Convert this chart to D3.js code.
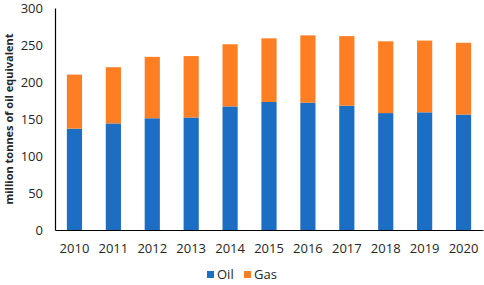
<!DOCTYPE html>
<html>
<head>
<meta charset="utf-8">
<script src="https://cdn.jsdelivr.net/npm/d3@7"></script>
<style>
    body { margin: 0; background: #fff; }
    #chart { width: 484px; height: 285px; }
    text { font-family: 'Open Sans', 'Liberation Sans', sans-serif; fill: #262626; }
</style>
</head>
<body>
<div id="chart"></div>
<script>
// DATA
const years = ['2010', '2011', '2012', '2013', '2014', '2015', '2016', '2017', '2018', '2019', '2020']
const oil = [137, 144, 151, 152, 167, 173, 172, 168, 158, 159, 156]
const gas = [73, 76, 83, 83, 84, 86, 91, 94, 97, 97, 97]
const seriesNames = ['Oil', 'Gas']
const yTicks = [0, 50, 100, 150, 200, 250, 300]

// SETTINGS
const settings = {
    width: 484,
    height: 285,
    margins: { left: 55, right: 1, top: 8, bottom: 55 },
    colors: { Oil: '#1c6ec4', Gas: '#fd7e23' }
}
const innerW = settings.width - settings.margins.left - settings.margins.right
const innerH = settings.height - settings.margins.top - settings.margins.bottom

const table = years.map((y, i) => ({ year: y, Oil: oil[i], Gas: gas[i] }))
const stacked = d3.stack().keys(seriesNames)(table)

const svg = d3.select('#chart').append('svg')
    .attr('width', settings.width)
    .attr('height', settings.height)

const g = svg.append('g')
    .attr('transform', `translate(${settings.margins.left}, ${settings.margins.top})`)

const x = d3.scaleBand()
    .domain(years)
    .range([0, innerW])
    .paddingInner(0.61)
    .paddingOuter(0.305)

const y = d3.scaleLinear()
    .domain([0, 300])
    .range([innerH, 0])

// bars
g.selectAll('.series')
    .data(stacked)
    .enter().append('g')
    .attr('class', 'series')
    .attr('fill', d => settings.colors[d.key])
    .selectAll('rect')
    .data(d => d)
    .enter().append('rect')
    .attr('x', d => x(d.data.year))
    .attr('width', x.bandwidth())
    .attr('y', d => y(d[1]))
    .attr('height', d => y(d[0]) - y(d[1]))

// y axis
const yAxis = d3.axisLeft(y).tickValues(yTicks).tickSize(0).tickPadding(12)
const yG = g.append('g').call(yAxis)
yG.select('.domain').attr('stroke', '#000').attr('stroke-width', 1.2)
yG.selectAll('text').style('font-size', '13px').attr('fill', '#262626')

// x axis
const xAxis = d3.axisBottom(x).tickSize(0).tickPadding(14)
const xG = g.append('g').attr('transform', `translate(0, ${innerH})`).call(xAxis)
xG.select('.domain').attr('stroke', '#000').attr('stroke-width', 1.2)
xG.selectAll('text').style('font-size', '13px').attr('fill', '#262626')

// axis title
svg.append('text')
    .attr('transform', `translate(13, ${settings.margins.top + innerH / 2}) rotate(-90)`)
    .attr('text-anchor', 'middle')
    .style('font-size', '11px')
    .style('font-weight', 'bold')
    .attr('fill', '#000')
    .text('million tonnes of oil equivalent')

// legend
const legendX = [207, 244]
const legend = svg.append('g')
    .selectAll('g')
    .data(seriesNames)
    .enter().append('g')
    .attr('transform', (d, i) => `translate(${legendX[i]}, 276)`)

legend.append('rect')
    .attr('x', 0)
    .attr('y', -5)
    .attr('width', 7)
    .attr('height', 7)
    .attr('fill', d => settings.colors[d])

legend.append('text')
    .attr('x', 10)
    .attr('y', 3)
    .style('font-size', '13px')
    .text(d => d)
</script>
</body>
</html>
